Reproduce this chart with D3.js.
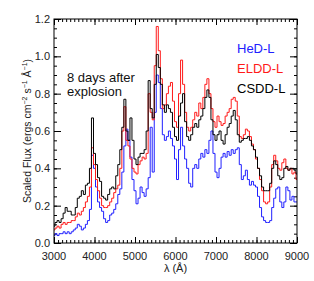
<!DOCTYPE html>
<html>
<head>
<meta charset="utf-8">
<script src="https://cdn.jsdelivr.net/npm/d3@7/dist/d3.min.js"></script>
<style>
  body { margin: 0; background: #fff; }
  text { font-family: "Liberation Sans", "DejaVu Sans", sans-serif; }
</style>
</head>
<body>
<div id="chart"></div>
<script>
// wavelength grid, 50 A steps from 3000 to 9000
const wave = d3.range(3000, 9001, 50);

const hedL = [0.04, 0.05, 0.04, 0.05, 0.05, 0.06, 0.05, 0.06, 0.05, 0.06,
  0.07, 0.08, 0.10, 0.09, 0.07, 0.08, 0.10, 0.12, 0.18, 0.47,
  0.40, 0.30, 0.22, 0.19, 0.17, 0.13, 0.11, 0.12, 0.15, 0.16,
  0.18, 0.21, 0.26, 0.29, 0.38, 0.52, 0.61, 0.55, 0.46, 0.34,
  0.28, 0.21, 0.24, 0.30, 0.27, 0.25, 0.29, 0.35, 0.62, 0.38,
  0.70, 0.90, 0.86, 0.72, 0.58, 0.55, 0.57, 0.60, 0.56, 0.52,
  0.45, 0.34, 0.50, 0.62, 0.52, 0.45, 0.40, 0.32, 0.30, 0.40,
  0.42, 0.40, 0.45, 0.48, 0.46, 0.50, 0.48, 0.55, 0.60, 0.48,
  0.38, 0.35, 0.40, 0.46, 0.48, 0.46, 0.49, 0.47, 0.50, 0.48,
  0.50, 0.51, 0.42, 0.34, 0.36, 0.39, 0.34, 0.31, 0.33, 0.31,
  0.30, 0.25, 0.19, 0.14, 0.12, 0.11, 0.11, 0.12, 0.19, 0.24,
  0.29, 0.30, 0.22, 0.19, 0.22, 0.30, 0.28, 0.23, 0.25, 0.22,
  0.22];

const elddL = [0.07, 0.08, 0.09, 0.08, 0.10, 0.11, 0.10, 0.11, 0.11, 0.12,
  0.12, 0.14, 0.16, 0.15, 0.17, 0.19, 0.22, 0.25, 0.30, 0.51,
  0.42, 0.34, 0.28, 0.24, 0.20, 0.19, 0.19, 0.20, 0.22, 0.24,
  0.27, 0.29, 0.31, 0.40, 0.60, 0.73, 0.55, 0.52, 0.45, 0.40,
  0.38, 0.37, 0.42, 0.44, 0.46, 0.45, 0.48, 0.80, 0.70, 0.66,
  0.95, 1.16, 1.03, 0.88, 0.72, 0.74, 0.80, 0.84, 0.86, 0.76,
  0.65, 0.62, 0.80, 0.98, 0.85, 0.70, 0.62, 0.60, 0.62, 0.66,
  0.70, 0.68, 0.75, 0.72, 0.78, 0.85, 0.88, 0.80, 0.72, 0.65,
  0.62, 0.68, 0.65, 0.63, 0.64, 0.68, 0.70, 0.72, 0.77, 0.78,
  0.76, 0.68, 0.57, 0.56, 0.58, 0.61, 0.60, 0.57, 0.53, 0.50,
  0.45, 0.40, 0.34, 0.28, 0.22, 0.21, 0.22, 0.30, 0.42, 0.47,
  0.44, 0.40, 0.39, 0.43, 0.45, 0.40, 0.39, 0.40, 0.37, 0.38,
  0.34];

const csddL = [0.09, 0.11, 0.12, 0.11, 0.13, 0.16, 0.19, 0.17, 0.17, 0.15,
  0.15, 0.19, 0.24, 0.25, 0.28, 0.26, 0.31, 0.32, 0.40, 0.67,
  0.48, 0.42, 0.35, 0.33, 0.25, 0.24, 0.23, 0.26, 0.29, 0.30,
  0.29, 0.36, 0.42, 0.50, 0.62, 0.77, 0.60, 0.55, 0.67, 0.55,
  0.45, 0.42, 0.46, 0.48, 0.48, 0.50, 0.60, 0.87, 0.72, 0.67,
  0.85, 1.01, 0.94, 0.85, 0.74, 0.70, 0.74, 0.72, 0.70, 0.62,
  0.57, 0.55, 0.68, 0.75, 0.80, 0.65, 0.57, 0.55, 0.58, 0.62,
  0.64, 0.62, 0.66, 0.68, 0.72, 0.78, 0.82, 0.78, 0.66, 0.58,
  0.55, 0.58, 0.60, 0.55, 0.53, 0.58, 0.62, 0.64, 0.68, 0.71,
  0.66, 0.58, 0.54, 0.55, 0.56, 0.56, 0.57, 0.55, 0.52, 0.50,
  0.46, 0.40, 0.36, 0.30, 0.28, 0.28, 0.28, 0.32, 0.40, 0.44,
  0.42, 0.36, 0.34, 0.35, 0.40, 0.41, 0.39, 0.40, 0.40, 0.39,
  0.37];

const seriesNames = ["HeD-L", "ELDD-L", "CSDD-L"];
const seriesColors = ["#2020ff", "#ff1a1a", "#000000"];
const xTicks = [3000, 4000, 5000, 6000, 7000, 8000, 9000];
const yTicks = [0.0, 0.2, 0.4, 0.6, 0.8, 1.0, 1.2];

const width = 314, height = 281;
const plotL = 54, plotR = 297, plotT = 19, plotB = 243;

const svg = d3.select("#chart").append("svg")
  .attr("width", width)
  .attr("height", height);

const x = d3.scaleLinear().domain([3000, 9000]).range([plotL, plotR]);
const y = d3.scaleLinear().domain([0, 1.2]).range([plotB, plotT]);

// axes: major + minor ticks on all four sides (IDL style)
const minorX = d3.range(3000, 9001, 100);
const minorY = d3.range(0, 1.2001, 0.05);

function tickStyle(g) {
  g.select(".domain").remove();
  g.selectAll("line").attr("stroke", "#000").attr("stroke-width", 1);
}

svg.append("g").attr("transform", `translate(0,${plotB})`)
  .call(d3.axisTop(x).tickValues(minorX).tickSize(3).tickFormat(""))
  .call(tickStyle);
svg.append("g").attr("transform", `translate(0,${plotB})`)
  .call(d3.axisTop(x).tickValues(xTicks).tickSize(6).tickFormat(""))
  .call(tickStyle);
svg.append("g").attr("transform", `translate(0,${plotT})`)
  .call(d3.axisBottom(x).tickValues(minorX).tickSize(3).tickFormat(""))
  .call(tickStyle);
svg.append("g").attr("transform", `translate(0,${plotT})`)
  .call(d3.axisBottom(x).tickValues(xTicks).tickSize(6).tickFormat(""))
  .call(tickStyle);

svg.append("g").attr("transform", `translate(${plotL},0)`)
  .call(d3.axisRight(y).tickValues(minorY).tickSize(3).tickFormat(""))
  .call(tickStyle);
svg.append("g").attr("transform", `translate(${plotL},0)`)
  .call(d3.axisRight(y).tickValues(yTicks).tickSize(7).tickFormat(""))
  .call(tickStyle);
svg.append("g").attr("transform", `translate(${plotR},0)`)
  .call(d3.axisLeft(y).tickValues(minorY).tickSize(3).tickFormat(""))
  .call(tickStyle);
svg.append("g").attr("transform", `translate(${plotR},0)`)
  .call(d3.axisLeft(y).tickValues(yTicks).tickSize(7).tickFormat(""))
  .call(tickStyle);

// tick labels
svg.append("g").selectAll("text").data(xTicks).join("text")
  .attr("x", d => x(d))
  .attr("y", plotB + 17)
  .attr("text-anchor", "middle")
  .attr("font-size", 11)
  .attr("fill", "#222")
  .text(d => d);

svg.append("g").selectAll("text").data(yTicks).join("text")
  .attr("x", plotL - 4)
  .attr("y", d => y(d) + 4)
  .attr("text-anchor", "end")
  .attr("font-size", 11)
  .attr("fill", "#222")
  .text(d => d.toFixed(1));

// spectra
const line = d3.line()
  .x(d => x(d[0]))
  .y(d => y(d[1]))
  .curve(d3.curveStep);

[hedL, elddL, csddL].forEach((vals, i) => {
  svg.append("path")
    .datum(wave.map((w, j) => [w, vals[j]]))
    .attr("fill", "none")
    .attr("stroke", seriesColors[i])
    .attr("stroke-width", 1)
    .attr("d", line);
});

// frame
svg.append("rect")
  .attr("x", plotL).attr("y", plotT)
  .attr("width", plotR - plotL).attr("height", plotB - plotT)
  .attr("fill", "none").attr("stroke", "#000").attr("stroke-width", 1);

// legend
svg.append("g").selectAll("text").data(seriesNames).join("text")
  .attr("x", 237)
  .attr("y", (d, i) => 53 + i * 20)
  .attr("font-size", 13)
  .attr("fill", (d, i) => seriesColors[i])
  .text(d => d);

// annotation
svg.append("text")
  .attr("x", 67).attr("y", 82)
  .attr("font-size", 13).attr("fill", "#111")
  .text("8 days after");
svg.append("text")
  .attr("x", 67).attr("y", 96)
  .attr("font-size", 13).attr("fill", "#111")
  .text("explosion");

// axis titles
svg.append("text")
  .attr("x", (plotL + plotR) / 2).attr("y", 272)
  .attr("text-anchor", "middle")
  .attr("font-size", 11).attr("fill", "#222")
  .text("λ (Å)");

const yLab = svg.append("text")
  .attr("transform", `translate(31,131) rotate(-90)`)
  .attr("text-anchor", "middle")
  .attr("font-size", 10.5).attr("fill", "#222");
yLab.append("tspan").text("Scaled Flux (ergs cm");
yLab.append("tspan").attr("dy", -4).attr("font-size", 7).text("−2");
yLab.append("tspan").attr("dy", 4).text(" s");
yLab.append("tspan").attr("dy", -4).attr("font-size", 7).text("−1");
yLab.append("tspan").attr("dy", 4).text(" Å");
yLab.append("tspan").attr("dy", -4).attr("font-size", 7).text("−1");
yLab.append("tspan").attr("dy", 4).text(")");
</script>
</body>
</html>
